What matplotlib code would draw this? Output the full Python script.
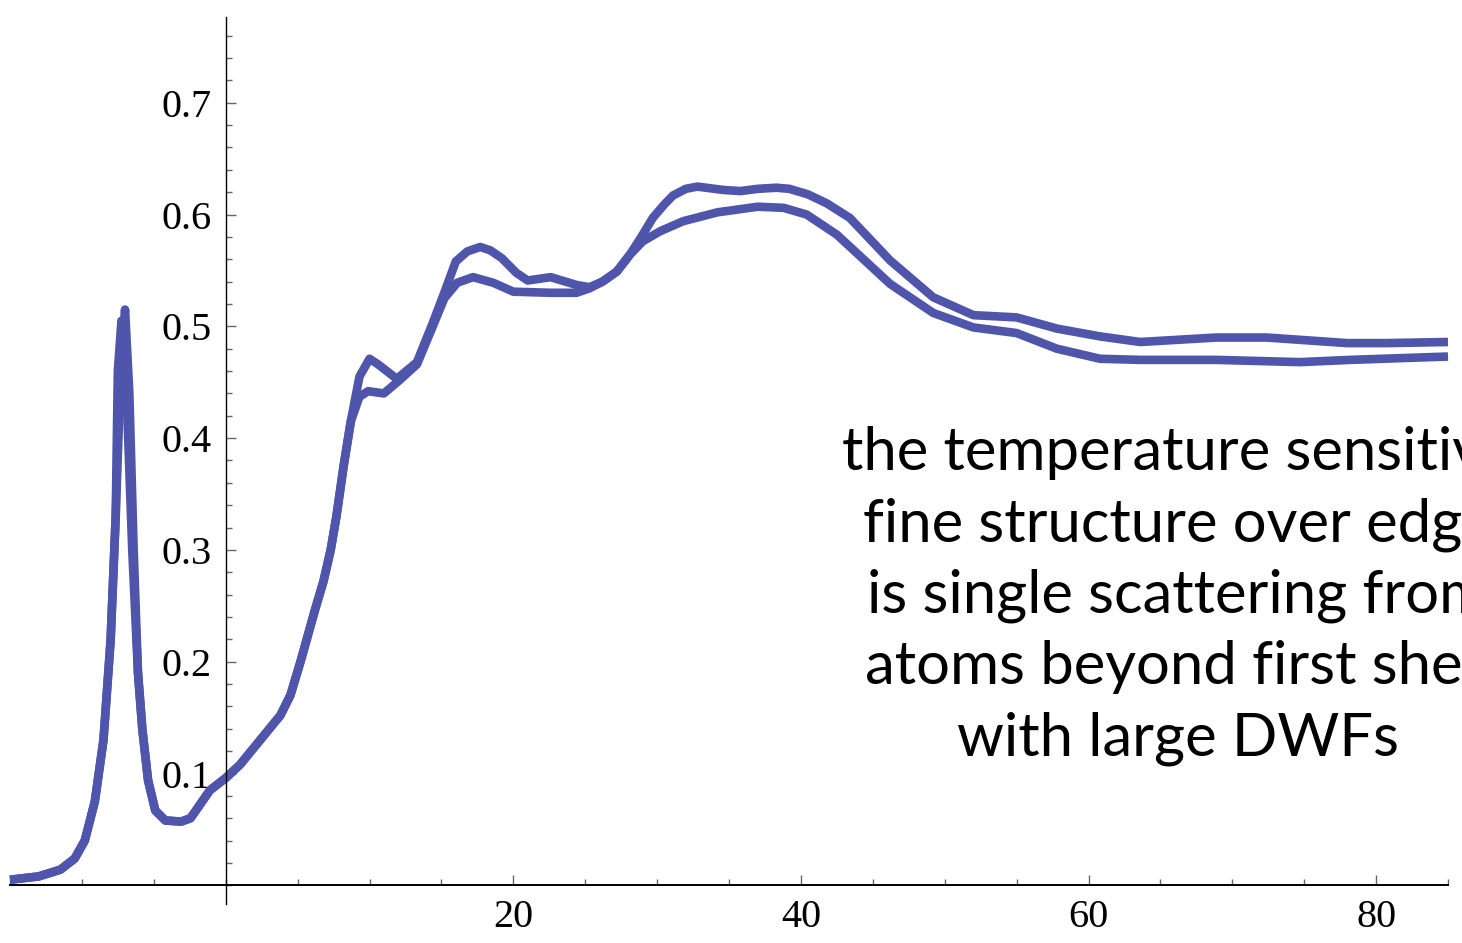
import numpy as np
import matplotlib
matplotlib.use('Agg')
import matplotlib.pyplot as plt
from matplotlib.ticker import MultipleLocator, FixedLocator


# curve: warmer / colder spectrum share the pre-edge
pre_x: list[float] = [-15.0, -13.0, -11.5, -10.5, -9.8, -9.1, -8.5, -8.0, -7.65]
pre_y: list[float] = [0.005, 0.008, 0.014, 0.024, 0.040, 0.075, 0.13, 0.22, 0.33]

mid_x: list[float] = [-6.1, -5.8, -5.4, -4.9, -4.2, -3.1, -2.45, -1.8, -1.1, 0.0,
                      1.0, 2.4, 3.8, 4.5, 5.2, 6.2, 6.8, 7.3, 7.7, 8.2, 8.7]
mid_y: list[float] = [0.19, 0.14, 0.094, 0.067, 0.058, 0.057, 0.060, 0.072, 0.085, 0.096,
                      0.108, 0.13, 0.152, 0.17, 0.20, 0.246, 0.272, 0.30, 0.33, 0.375, 0.415]

peak_a_x: list[float] = [-7.3, -7.0, -6.7, -6.4]
peak_a_y: list[float] = [0.46, 0.515, 0.44, 0.30]
peak_b_x: list[float] = [-7.5, -7.25, -6.95, -6.5]
peak_b_y: list[float] = [0.46, 0.505, 0.46, 0.30]

post_a_x: list[float] = [9.3, 10.0, 10.6, 11.9, 13.3, 14.4, 15.2, 16.0, 16.8, 17.7,
                         18.4, 19.2, 20.2, 21.0, 22.6, 24.4, 25.3, 26.2, 27.2, 28.1,
                         29.0, 29.7, 30.5, 31.1, 32.0, 32.8, 34.6, 35.8, 37.0, 38.3,
                         39.2, 40.5, 41.8, 43.4, 46.2, 49.2, 52.0, 55.0, 57.8, 60.8,
                         63.6, 68.9, 72.4, 78.0, 80.7, 85.0]
post_a_y: list[float] = [0.455, 0.471, 0.466, 0.453, 0.468, 0.503, 0.530, 0.558, 0.567, 0.571,
                         0.568, 0.561, 0.548, 0.541, 0.544, 0.537, 0.535, 0.540, 0.549, 0.564,
                         0.582, 0.597, 0.609, 0.617, 0.623, 0.625, 0.622, 0.621, 0.623, 0.624,
                         0.623, 0.618, 0.610, 0.597, 0.559, 0.526, 0.510, 0.508, 0.498, 0.491,
                         0.486, 0.490, 0.490, 0.485, 0.485, 0.486]

post_b_x: list[float] = [9.3, 9.9, 11.0, 12.1, 13.3, 14.4, 15.2, 16.1, 17.2, 18.6,
                         20.0, 22.6, 24.4, 25.3, 26.2, 27.2, 28.1, 29.0, 30.2, 31.8,
                         34.2, 37.0, 38.8, 40.4, 42.5, 46.2, 49.2, 52.0, 55.0, 57.8,
                         60.8, 63.6, 68.9, 74.7, 78.2, 85.0]
post_b_y: list[float] = [0.437, 0.442, 0.440, 0.452, 0.466, 0.500, 0.525, 0.539, 0.544, 0.539,
                         0.531, 0.530, 0.530, 0.534, 0.540, 0.549, 0.564, 0.576, 0.585, 0.594,
                         0.602, 0.607, 0.606, 0.600, 0.582, 0.538, 0.512, 0.499, 0.494, 0.480,
                         0.471, 0.470, 0.470, 0.468, 0.470, 0.473]

y_labels: list[float] = [0.1, 0.2, 0.3, 0.4, 0.5, 0.6, 0.7]
x_labels: list[int] = [20, 40, 60, 80]

note = ('the temperature sensitive\nfine structure over edge\nis single scattering from\n'
        'atoms beyond first shell\nwith large DWFs')

line_color = '#4f55aa'

curve_a_x = pre_x + peak_a_x + mid_x + post_a_x
curve_a_y = pre_y + peak_a_y + mid_y + post_a_y
curve_b_x = pre_x + peak_b_x + mid_x + post_b_x
curve_b_y = pre_y + peak_b_y + mid_y + post_b_y

fig = plt.figure(figsize=(14.62, 9.43), dpi=100)
ax = fig.add_axes([10 / 1462, 39 / 943, 1438 / 1462, 887 / 943])

ax.plot(curve_b_x, curve_b_y, color=line_color, lw=6.2, solid_capstyle='butt', clip_on=False)
ax.plot(curve_a_x, curve_a_y, color=line_color, lw=6.2, solid_capstyle='butt', clip_on=False)

ax.set_xlim(-15.0, 85.0)
ax.set_ylim(-0.0167, 0.7767)

for side in ['top', 'right']:
    ax.spines[side].set_visible(False)
ax.spines['left'].set_position(('data', 0))
ax.spines['bottom'].set_position(('data', 0))
ax.spines['left'].set_linewidth(1.0)
ax.spines['bottom'].set_linewidth(1.4)

ax.xaxis.set_major_locator(FixedLocator(x_labels))
ax.xaxis.set_minor_locator(MultipleLocator(5))
ax.yaxis.set_major_locator(FixedLocator(y_labels))
ax.yaxis.set_minor_locator(MultipleLocator(0.02))
ax.set_xticklabels([str(v) for v in x_labels])
ax.set_yticklabels([f'{v:.1f}' for v in y_labels])

tick_font = {'family': 'Liberation Serif', 'size': 29}
for lab in ax.get_xticklabels() + ax.get_yticklabels():
    lab.set_fontfamily(tick_font['family'])
    lab.set_fontsize(tick_font['size'])

ax.tick_params(which='major', direction='in', length=7.5, width=1.0, color='#666666', pad=10)
ax.tick_params(which='minor', direction='in', length=4, width=1.0, color='#666666')

# text runs past the right edge in the original slide too
fig.text(1178 / 1462, 1 - 596 / 943, note, ha='center', va='center', multialignment='center',
         fontsize=43, family='Lato', linespacing=1.39, color='black')

fig.savefig('out.png', dpi=100)
